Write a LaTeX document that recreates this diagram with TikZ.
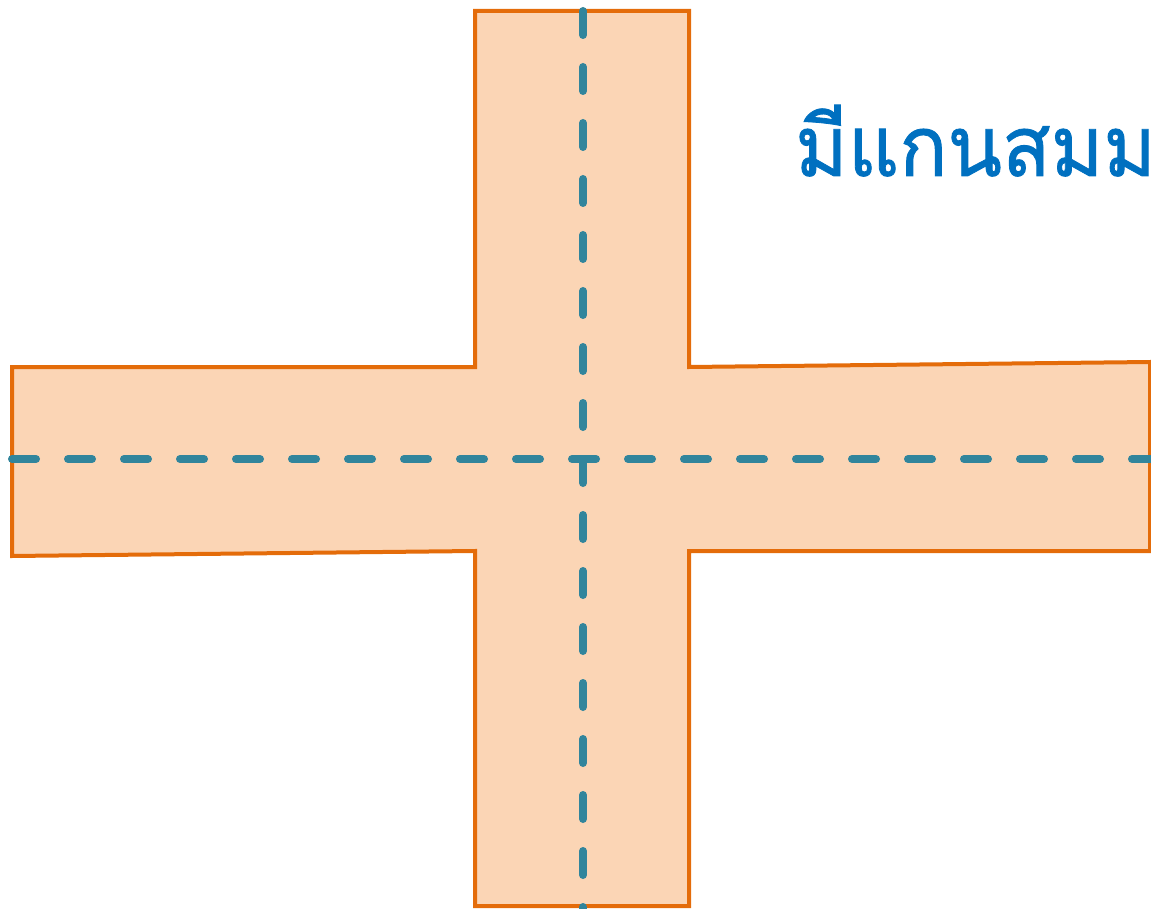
\documentclass[tikz,border=0pt]{standalone}
\usepackage{fontspec}
\newfontfamily\thaifont[Script=Thai,FakeStretch=0.95,FakeBold=1]{Loma}
\definecolor{crossorange}{HTML}{E46C0A}
\definecolor{crossfill}{HTML}{FBD5B5}
\definecolor{axisteal}{HTML}{31859C}
\definecolor{titleblue}{HTML}{0070C0}
\tikzset{
  crossshape/.style={draw=crossorange, fill=crossfill, line width=4pt, line join=miter},
  axisline/.style={draw=axisteal, line width=8pt, line cap=round, dash pattern=on 24pt off 32pt},
  titletext/.style={text=titleblue, font=\thaifont\fontsize{84}{100}\selectfont, inner sep=0pt, anchor=base west}
}
\begin{document}
\begin{tikzpicture}[x=1pt,y=-1pt]
\useasboundingbox (0,0) rectangle (1151,909);
\clip (0,0) rectangle (1151,909);
\path[crossshape] (475,11) -- (689,11) -- (689,367) -- (1150,362) -- (1150,551) -- (689,551) -- (689,906) -- (475,906) -- (475,551) -- (12,556) -- (12,367) -- (475,367) -- cycle;
\draw[axisline] (583,11) -- (583,915);
\draw[axisline] (12,459) -- (1160,459);
\node[titletext] (title) at (795,176) {มีแกนสมม};
\end{tikzpicture}
\end{document}
